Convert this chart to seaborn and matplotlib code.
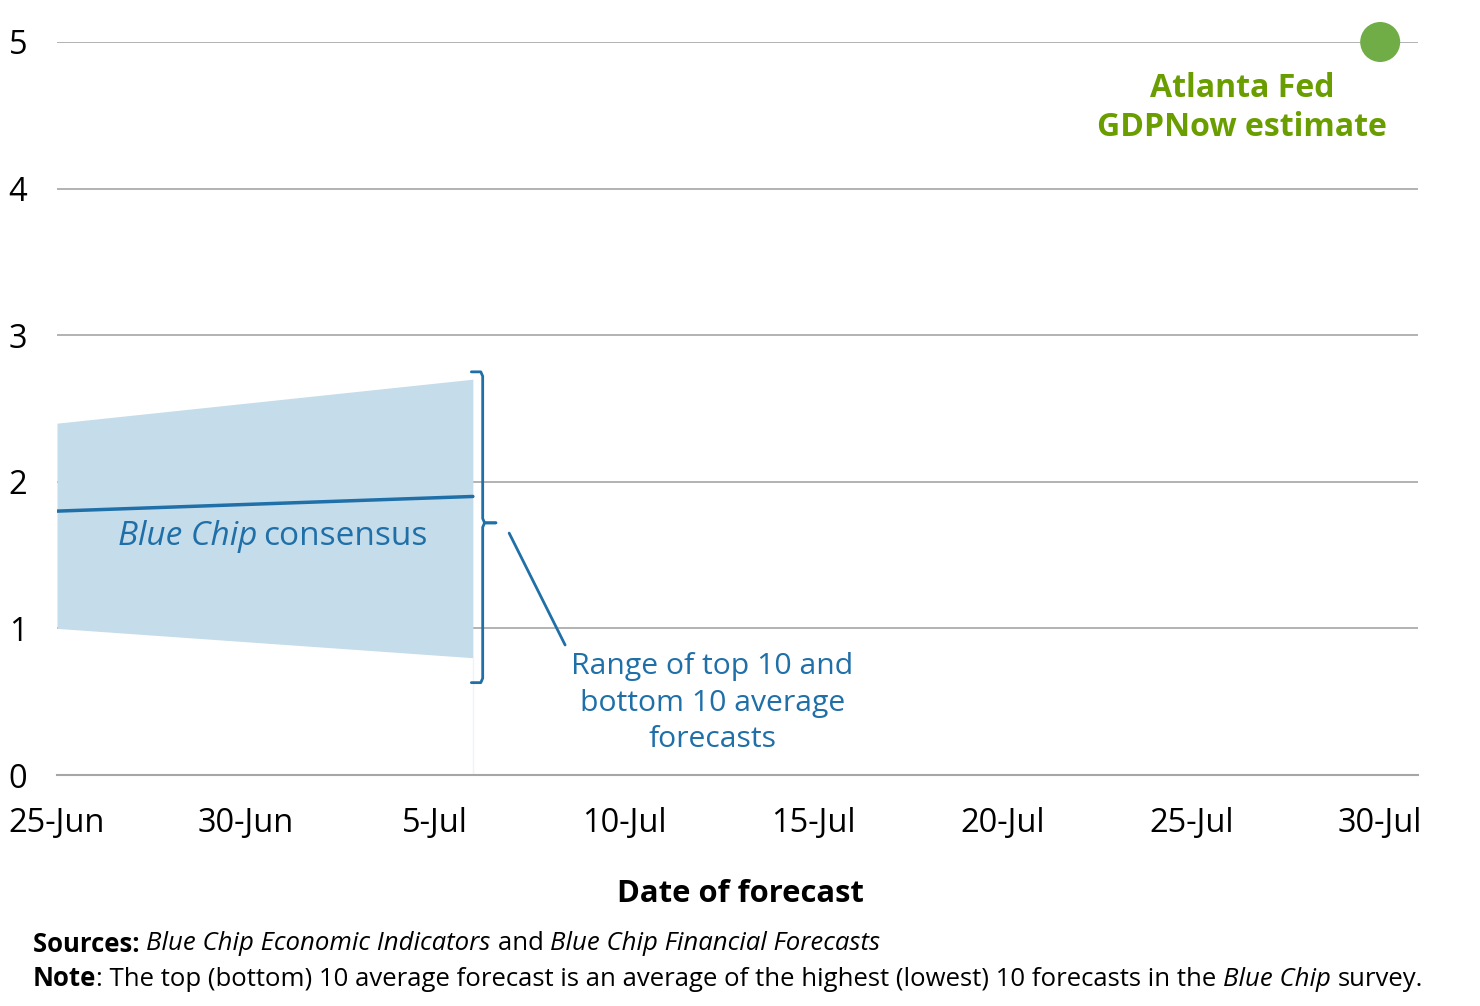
import numpy as np
import pandas as pd
import matplotlib
matplotlib.use("Agg")
import matplotlib.pyplot as plt
import matplotlib.dates as mdates
import seaborn as sns

# datos
dates = pd.to_datetime(["2021-06-25", "2021-07-06"])
consensus = [1.8, 1.9]
top10 = [2.4, 2.7]
bottom10 = [1.0, 0.8]
gdpnow_date = pd.to_datetime(["2021-07-30"])
gdpnow = [5.0]
xtick_dates = pd.date_range("2021-06-25", "2021-07-30", freq="5D")
yticks = [0, 1, 2, 3, 4, 5]

azul = "#1f6fa8"
azul_claro = "#c5dcea"
verde_dot = "#70ad47"
verde_txt = "#6a9e00"
gris = "#a6a6a6"

sns.set_style("white")
plt.rcParams["font.family"] = ["Open Sans", "DejaVu Sans"]
plt.rcParams["text.color"] = "black"
plt.rcParams["xtick.labelcolor"] = "black"
plt.rcParams["ytick.labelcolor"] = "black"

fig = plt.figure(figsize=(14.8, 10.06), dpi=100)
ax = fig.add_axes([57 / 1480, 1 - 775 / 1006, (1418 - 57) / 1480, (775 - 42) / 1006])

df = pd.DataFrame({"fecha": dates, "consensus": consensus, "top": top10, "bottom": bottom10})
ax.fill_between(df["fecha"], df["bottom"], df["top"], color=azul_claro, lw=0, zorder=1)
ax.axvline(dates[-1], ymin=0, ymax=0.8 / 5, color="#eef3f7", lw=1, zorder=1)
sns.lineplot(data=df, x="fecha", y="consensus", color=azul, lw=2.5, ax=ax, zorder=3)
sns.scatterplot(x=gdpnow_date, y=gdpnow, color=verde_dot, s=830, edgecolor="none",
                ax=ax, zorder=4, clip_on=False)

ax.set_xlim(pd.Timestamp("2021-06-25"), pd.Timestamp("2021-07-31"))
ax.set_ylim(0, 5)
ax.set_yticks(yticks)
ax.set_xticks(xtick_dates)
ax.xaxis.set_major_formatter(plt.FuncFormatter(
    lambda v, p: f"{mdates.num2date(v).day}-{mdates.num2date(v).strftime('%b')}"))
ax.grid(axis="y", color=gris, lw=1.2, zorder=0)
ax.grid(axis="x", visible=False)
for s in ["top", "right", "left"]:
    ax.spines[s].set_visible(False)
ax.spines["bottom"].set_color(gris)
ax.spines["bottom"].set_linewidth(1.5)
ax.tick_params(axis="x", length=11, width=1.5, color=gris, labelsize=23.5, pad=12)
ax.tick_params(axis="y", length=0, labelsize=23.5, pad=28)
ax.set_xlabel("")
ax.set_ylabel("")
for lbl in ax.get_yticklabels():
    lbl.set_horizontalalignment("center")

# corchete
d0 = mdates.date2num(dates[0])
bx = mdates.date2num(dates[-1]) + 0.26
ax.plot([bx - 0.3, bx - 0.05, bx, bx, bx + 0.05, bx + 0.35], [2.75, 2.75, 2.72, 1.75, 1.72, 1.72],
        color=azul, lw=2, solid_joinstyle="round", clip_on=False, zorder=3)
ax.plot([bx + 0.35, bx + 0.05, bx, bx, bx - 0.05, bx - 0.3], [1.72, 1.72, 1.69, 0.66, 0.63, 0.63],
        color=azul, lw=2, solid_joinstyle="round", clip_on=False, zorder=3)
ax.plot([d0 + 11.96, d0 + 13.44], [1.65, 0.887], color=azul, lw=2, zorder=3)

ax.text(d0 + 17.33, 0.49, "Range of top 10 and\nbottom 10 average\nforecasts", color=azul,
        fontsize=21.7, ha="center", va="center", linespacing=1.33)
ax.text(d0 + 5.29, 1.63, "Blue Chip", color=azul, fontsize=24, style="italic", ha="right", va="center")
ax.text(d0 + 5.44, 1.63, "consensus", color=azul, fontsize=24, ha="left", va="center")
ax.text(d0 + 31.35, 4.55, "Atlanta Fed\nGDPNow estimate", color=verde_txt, fontsize=23,
        fontweight="bold", ha="center", va="center", linespacing=1.25)

fig.text(0.5, 1 - 894 / 1006, "Date of forecast", fontsize=22.3, fontweight="bold", ha="center", va="center")

renderer = fig.canvas.get_renderer()


def rico(x, y, partes, size):
    for txt, w, st in partes:
        t = fig.text(x, y, txt, fontsize=size, fontweight=w, style=st, ha="left", va="center")
        bb = t.get_window_extent(renderer)
        x += bb.width / fig.bbox.width


rico(33 / 1480, 1 - 944 / 1006,
     [("Sources: ", "bold", "normal"), ("Blue Chip Economic Indicators ", "normal", "italic"),
      ("and ", "normal", "normal"), ("Blue Chip Financial Forecasts", "normal", "italic")], 18.5)
rico(33 / 1480, 1 - 979 / 1006,
     [("Note", "bold", "normal"),
      (": The top (bottom) 10 average forecast is an average of the highest (lowest) 10 forecasts in the ",
       "normal", "normal"), ("Blue Chip ", "normal", "italic"), ("survey.", "normal", "normal")], 18.5)

fig.savefig("out.png", dpi=100)
